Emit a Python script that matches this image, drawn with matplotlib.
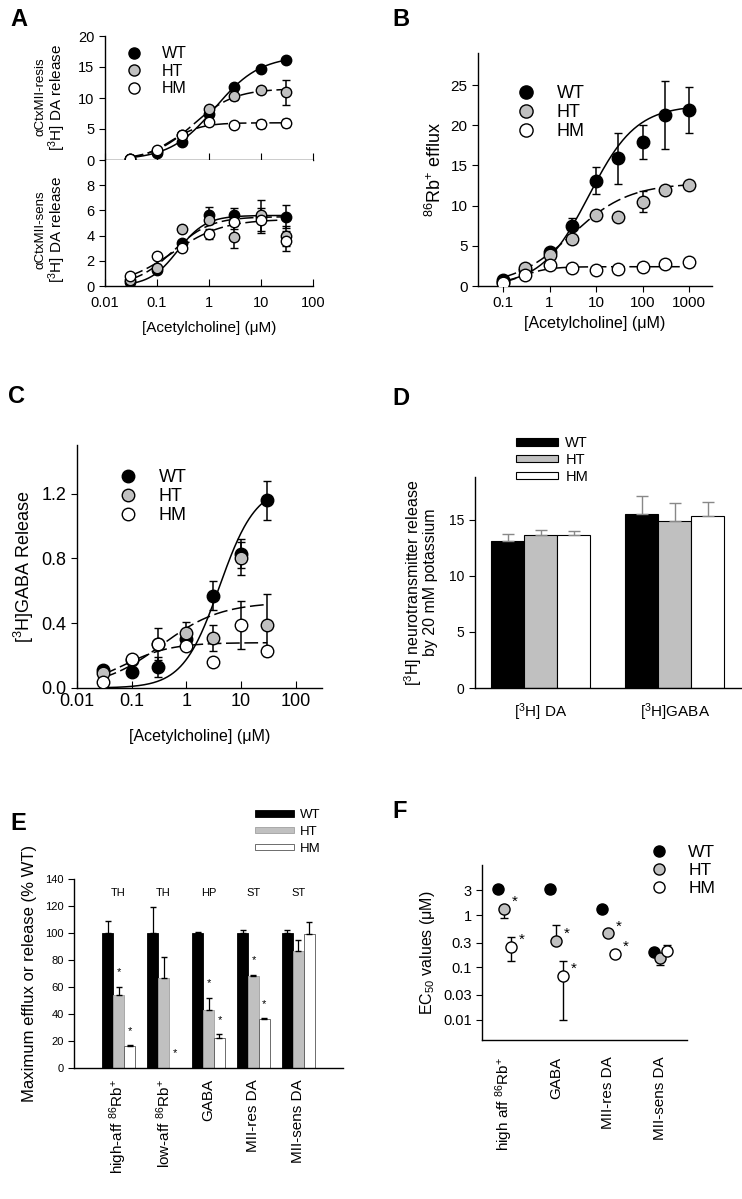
import numpy as np
import matplotlib
matplotlib.use('Agg')
import matplotlib.pyplot as plt
from matplotlib.patches import Patch
from matplotlib.lines import Line2D

plt.rcParams['font.family'] = ['Liberation Sans', 'DejaVu Sans']
plt.rcParams['mathtext.fontset'] = 'custom'
plt.rcParams['mathtext.rm'] = 'Liberation Sans'
plt.rcParams['mathtext.it'] = 'Liberation Sans:italic'
plt.rcParams['axes.linewidth'] = 1.0

# ---- data ----
genotypes = ['WT', 'HT', 'HM']

# A: aCtxMII-resistant / -sensitive [3H]DA release
ach_a = [0.03, 0.1, 0.3, 1, 3, 10, 30]
resis_wt = [0.2, 1.2, 2.9, 7.4, 11.8, 14.6, 16.1]
resis_ht = [0.2, 1.4, 4.1, 8.3, 10.4, 11.3, 10.9]
resis_hm = [0.2, 1.6, 4.1, 6.2, 5.6, 5.8, 6.0]
resis_wt_err = [0, 0, 0, 0, 0, 0, 0]
resis_ht_err = [0, 0, 0, 0, 0.7, 0.5, 2.0]
resis_hm_err = [0, 0, 0, 0.5, 0, 0.7, 0.6]
resis_fit_wt = [16.8, 1.3, 1.0]   # top, EC50, Hill slope
resis_fit_ht = [11.5, 0.5, 1.1]
resis_fit_hm = [6.0, 0.18, 1.5]

sens_wt = [0.3, 1.3, 3.4, 5.6, 5.6, 5.5, 5.5]
sens_ht = [0.5, 1.4, 4.5, 5.2, 3.9, 5.6, 4.0]
sens_hm = [0.8, 2.4, 3.0, 4.1, 5.1, 5.2, 3.6]
sens_wt_err = [0, 0, 0, 0.7, 0.6, 0, 0.9]
sens_ht_err = [0, 0, 0, 0, 0.9, 1.2, 0.8]
sens_hm_err = [0, 0, 0, 0.4, 0.6, 1.0, 0.8]
sens_fit_wt = [5.6, 0.25, 1.6]
sens_fit_ht = [5.5, 0.2, 1.2]
sens_fit_hm = [5.3, 0.2, 0.9]

# B: 86Rb+ efflux
ach_b = [0.1, 0.3, 1, 3, 10, 30, 100, 300, 1000]
rb_wt = [0.7, 2.0, 4.2, 7.5, 13.1, 15.9, 17.9, 21.3, 21.9]
rb_ht = [0.5, 2.2, 3.8, 5.8, 8.8, 8.6, 10.5, 12.0, 12.6]
rb_hm = [0.4, 1.4, 2.6, 2.3, 2.0, 2.1, 2.4, 2.8, 3.0]
rb_wt_err = [0, 0, 0.3, 1.0, 1.7, 3.2, 2.1, 4.2, 2.9]
rb_ht_err = [0, 0, 0, 0, 0.5, 0, 1.3, 0, 0]
rb_hm_err = [0, 0, 0, 0, 0, 0, 0, 0, 0]
rb_fit_wt = [22.5, 7.0, 0.85]
rb_fit_ht = [12.8, 3.0, 0.7]
rb_fit_hm = [2.4, 0.25, 1.5]

# C: [3H]GABA release
ach_c = [0.03, 0.1, 0.3, 1, 3, 10, 30]
gaba_wt = [0.11, 0.10, 0.13, 0.30, 0.57, 0.83, 1.16]
gaba_ht = [0.09, 0.17, 0.27, 0.34, 0.31, 0.80, 0.39]
gaba_hm = [0.04, 0.18, 0.27, 0.26, 0.16, 0.39, 0.23]
gaba_wt_err = [0.02, 0, 0.06, 0, 0.09, 0.09, 0.12]
gaba_ht_err = [0, 0, 0.1, 0.07, 0.08, 0.1, 0.19]
gaba_hm_err = [0, 0, 0, 0, 0, 0.15, 0]
gaba_fit_wt = [1.25, 4.0, 1.3]
gaba_fit_ht = [0.53, 0.35, 0.8]
gaba_fit_hm = [0.28, 0.07, 1.0]

# D: K+ evoked release
d_groups = ['[$^3$H] DA', '[$^3$H]GABA']
k_wt = [13.1, 15.5]
k_ht = [13.6, 14.9]
k_hm = [13.6, 15.3]
k_wt_err = [0.6, 1.6]
k_ht_err = [0.5, 1.6]
k_hm_err = [0.4, 1.3]

# E: maximum efflux or release (% WT)
e_groups = ['high-aff $^{86}$Rb$^{+}$', 'low-aff $^{86}$Rb$^{+}$', 'GABA',
            'MII-res DA', 'MII-sens DA']
e_regions = ['TH', 'TH', 'HP', 'ST', 'ST']
max_wt = [100, 100, 100, 100, 100]
max_ht = [54, 67, 43, 68, 87]
max_hm = [16, 0, 22, 36, 99]
max_wt_err = [9, 19, 1, 2, 2]
max_ht_err = [6, 15, 9, 1, 8]
max_hm_err = [1, 0, 3, 1, 9]
sig_ht_e = [True, False, True, True, False]
sig_hm_e = [True, True, True, True, False]

# F: EC50 values
f_groups = ['high aff $^{86}$Rb$^{+}$', 'GABA', 'MII-res DA', 'MII-sens DA']
ec50_wt = [3.2, 3.2, 1.3, 0.2]
ec50_ht = [1.3, 0.32, 0.45, 0.15]
ec50_hm = [0.25, 0.07, 0.18, 0.21]
ec50_wt_lo = [3.2, 2.6, 1.3, 0.2]
ec50_wt_hi = [3.2, 3.2, 1.3, 0.2]
ec50_ht_lo = [0.9, 0.32, 0.45, 0.11]
ec50_ht_hi = [1.35, 0.65, 0.45, 0.15]
ec50_hm_lo = [0.13, 0.01, 0.18, 0.21]
ec50_hm_hi = [0.38, 0.13, 0.18, 0.27]
sig_ht_f = [True, True, True, False]
sig_hm_f = [True, True, True, False]

ach_label = '[Acetylcholine] (\u03bcM)'

# ---- style ----
W, H = 742, 1199
fig = plt.figure(figsize=(W / 100, H / 100), dpi=100)
face = {'WT': 'black', 'HT': '#c0c0c0', 'HM': 'white'}
line_style = {'WT': '-', 'HT': (0, (9, 3)), 'HM': (0, (9, 3))}


def rect(l, t, r, b):
    return [l / W, 1 - b / H, (r - l) / W, (b - t) / H]


def hill(x, top, ec50, n):
    return top * x ** n / (ec50 ** n + x ** n)


def dose_series(ax, x, y, err, fit, g, ms):
    xs = np.logspace(np.log10(x[0]), np.log10(x[-1]), 200)
    ax.plot(xs, hill(xs, *fit), color='black', lw=1.1, ls=line_style[g], zorder=2)
    e = np.array(err, dtype=float)
    m = e > 0
    if m.any():
        ax.errorbar(np.array(x)[m], np.array(y)[m], yerr=e[m], fmt='none',
                    ecolor='black', elinewidth=1.1, capsize=3, zorder=3)
    ax.plot(x, y, 'o', ms=ms, mfc=face[g], mec='black', mew=1.0, zorder=4)


def marker_legend(ax, anchor, fs, ms, spacing=0.1):
    hs = [Line2D([], [], ls='none', marker='o', ms=ms, mfc=face[g], mec='black')
          for g in genotypes]
    ax.legend(hs, genotypes, loc='upper left', bbox_to_anchor=anchor,
              bbox_transform=fig.transFigure, frameon=False, fontsize=fs,
              handletextpad=1.2, labelspacing=spacing, borderaxespad=0,
              handlelength=1.0)


def log_ticks(ax, ticks):
    ax.set_xscale('log')
    ax.set_xticks(ticks)
    ax.set_xticklabels([('%g' % t) for t in ticks])
    ax.xaxis.set_minor_locator(matplotlib.ticker.NullLocator())


def clean(ax):
    ax.spines['top'].set_visible(False)
    ax.spines['right'].set_visible(False)


# ---- panel A ----
axA1 = fig.add_axes(rect(105, 36, 313, 160))
axA2 = fig.add_axes(rect(105, 160, 313, 286))
for ax in (axA1, axA2):
    clean(ax)
    log_ticks(ax, [0.01, 0.1, 1, 10, 100])
    ax.set_xlim(0.01, 100)
    ax.tick_params(axis='x', direction='in', length=5, pad=7)
    ax.tick_params(axis='y', direction='out', length=4, labelsize=10.5)
axA1.set_xticklabels([])
dose_series(axA1, ach_a, resis_wt, resis_wt_err, resis_fit_wt, 'WT', 7.5)
dose_series(axA1, ach_a, resis_ht, resis_ht_err, resis_fit_ht, 'HT', 7.5)
dose_series(axA1, ach_a, resis_hm, resis_hm_err, resis_fit_hm, 'HM', 7.5)
axA1.set_ylim(0, 20)
axA1.set_yticks([0, 5, 10, 15, 20])
dose_series(axA2, ach_a, sens_wt, sens_wt_err, sens_fit_wt, 'WT', 7.5)
dose_series(axA2, ach_a, sens_ht, sens_ht_err, sens_fit_ht, 'HT', 7.5)
dose_series(axA2, ach_a, sens_hm, sens_hm_err, sens_fit_hm, 'HM', 7.5)
axA2.set_ylim(0, 10)
axA2.set_yticks([0, 2, 4, 6, 8])
axA2.tick_params(axis='x', labelsize=10.5)
axA2.set_xlabel(ach_label, fontsize=11, labelpad=8)
marker_legend(axA1, (120 / W, 1 - 40 / H), 11.5, 8, 0.15)
fig.text(40 / W, 1 - 97 / H, '\u03b1CtxMII-resis', rotation=90, fontsize=9.5,
         ha='center', va='center')
fig.text(57 / W, 1 - 98 / H, '[$^3$H] DA release', rotation=90, fontsize=11,
         ha='center', va='center')
fig.text(40 / W, 1 - 230 / H, '\u03b1CtxMII-sens', rotation=90, fontsize=9.5,
         ha='center', va='center')
fig.text(57 / W, 1 - 230 / H, '[$^3$H] DA release', rotation=90, fontsize=11,
         ha='center', va='center')

# ---- panel B ----
axB = fig.add_axes(rect(478, 53, 712, 286))
clean(axB)
log_ticks(axB, [0.1, 1, 10, 100, 1000])
axB.set_xlim(0.029, 3100)
axB.set_ylim(0, 29)
axB.set_yticks([0, 5, 10, 15, 20, 25])
dose_series(axB, ach_b, rb_wt, rb_wt_err, rb_fit_wt, 'WT', 9)
dose_series(axB, ach_b, rb_ht, rb_ht_err, rb_fit_ht, 'HT', 9)
dose_series(axB, ach_b, rb_hm, rb_hm_err, rb_fit_hm, 'HM', 9)
axB.tick_params(direction='out', length=4, labelsize=11)
axB.set_xlabel(ach_label, fontsize=11.5)
axB.set_ylabel('$^{86}$Rb$^{+}$ efflux', fontsize=13, labelpad=4)
marker_legend(axB, (510 / W, 1 - 78 / H), 13, 9.5, 0.1)

# ---- panel C ----
axC = fig.add_axes(rect(77, 445, 322, 688))
clean(axC)
log_ticks(axC, [0.01, 0.1, 1, 10, 100])
axC.set_xlim(0.01, 300)
axC.set_ylim(0, 1.5)
axC.set_yticks([0.0, 0.4, 0.8, 1.2])
axC.set_yticklabels(['0.0', '0.4', '0.8', '1.2'])
dose_series(axC, ach_c, gaba_wt, gaba_wt_err, gaba_fit_wt, 'WT', 9)
dose_series(axC, ach_c, gaba_ht, gaba_ht_err, gaba_fit_ht, 'HT', 9)
dose_series(axC, ach_c, gaba_hm, gaba_hm_err, gaba_fit_hm, 'HM', 9)
axC.tick_params(axis='x', direction='in', length=5, labelsize=13)
axC.tick_params(axis='y', direction='out', length=4, labelsize=13)
axC.set_xlabel(ach_label, fontsize=11.5, labelpad=14)
axC.set_ylabel('[$^3$H]GABA Release', fontsize=13)
marker_legend(axC, (112 / W, 1 - 462 / H), 13, 9, 0.1)

# ---- panel D ----
axD = fig.add_axes(rect(475, 477, 742, 688))
clean(axD)
xd = np.arange(len(d_groups))
wd = 0.246
for i, (g, vals, errs) in enumerate(zip(genotypes, [k_wt, k_ht, k_hm],
                                        [k_wt_err, k_ht_err, k_hm_err])):
    axD.bar(xd + (i - 1) * wd, vals, wd, color=face[g], edgecolor='black', lw=0.8,
            yerr=[np.zeros(len(errs)), errs], ecolor='#888888',
            error_kw=dict(capsize=4, elinewidth=1.0), zorder=2)
axD.set_xlim(-0.49, 1.5)
axD.set_ylim(0, 18.8)
axD.set_yticks([0, 5, 10, 15])
axD.set_xticks(xd)
axD.set_xticklabels(d_groups, fontsize=11)
axD.tick_params(axis='x', length=0, pad=10)
axD.tick_params(axis='y', direction='out', length=4, labelsize=10)
axD.set_ylabel('[$^3$H] neurotransmitter release\nby 20 mM potassium', fontsize=11.5,
               linespacing=0.95, labelpad=8)
hD = [Patch(facecolor=face[g], edgecolor='black', lw=0.8) for g in genotypes]
axD.legend(hD, genotypes, loc='upper left', bbox_to_anchor=(510 / W, 1 - 430 / H),
           bbox_transform=fig.transFigure, frameon=False, fontsize=10.5,
           handlelength=2.9, handleheight=0.45, labelspacing=0.2,
           handletextpad=0.5, borderaxespad=0)

# ---- panel E ----
axE = fig.add_axes(rect(74, 879, 343, 1068))
clean(axE)
xe = np.arange(len(e_groups))
we = 0.244
e_edges = {'WT': 'black', 'HT': '#a0a0a0', 'HM': '#555555'}
for i, (g, vals, errs) in enumerate(zip(genotypes, [max_wt, max_ht, max_hm],
                                        [max_wt_err, max_ht_err, max_hm_err])):
    pos = xe + (i - 1) * we
    axE.bar(pos, vals, we, color=face[g], edgecolor=e_edges[g], lw=0.6, zorder=2)
    errs = np.array(errs, dtype=float)
    m = errs > 0
    axE.errorbar(pos[m], np.array(vals)[m], yerr=[np.zeros(m.sum()), errs[m]],
                 fmt='none', ecolor='black', elinewidth=0.9, capsize=2.5, zorder=3)
for sig, vals, errs, off in ((sig_ht_e, max_ht, max_ht_err, 0), (sig_hm_e, max_hm, max_hm_err, 1)):
    for k in range(len(e_groups)):
        if sig[k]:
            axE.text(xe[k] + off * we, vals[k] + errs[k] + 7, '*', ha='center',
                     va='bottom', fontsize=8)
for k, reg in enumerate(e_regions):
    axE.text(xe[k], 130, reg, ha='center', va='center', fontsize=8)
axE.set_xlim(-0.99, 4.99)
axE.set_ylim(0, 140)
axE.set_yticks(range(0, 141, 20))
axE.set_xticks(xe)
axE.set_xticklabels(e_groups, rotation=90, fontsize=11)
axE.tick_params(axis='x', length=0, pad=8)
axE.tick_params(axis='y', direction='out', length=4, labelsize=8)
axE.set_ylabel('Maximum efflux or release (% WT)', fontsize=12, labelpad=6)
hE = [Patch(facecolor=face[g], edgecolor=e_edges[g], lw=0.6) for g in genotypes]
axE.legend(hE, genotypes, loc='upper left', bbox_to_anchor=(250 / W, 1 - 804 / H),
           bbox_transform=fig.transFigure, frameon=False, fontsize=9.5,
           handlelength=2.9, handleheight=0.35, labelspacing=0.35,
           handletextpad=0.5, borderaxespad=0)

# ---- panel F ----
axF = fig.add_axes(rect(482, 865, 687, 1040))
clean(axF)
xf = np.arange(len(f_groups))
off_f = {'WT': -0.12, 'HT': 0.0, 'HM': 0.13}
for g, vals, lo, hi, sig in (('WT', ec50_wt, ec50_wt_lo, ec50_wt_hi, None),
                             ('HT', ec50_ht, ec50_ht_lo, ec50_ht_hi, sig_ht_f),
                             ('HM', ec50_hm, ec50_hm_lo, ec50_hm_hi, sig_hm_f)):
    pos = xf + off_f[g]
    vals = np.array(vals)
    axF.errorbar(pos, vals, yerr=[vals - np.array(lo), np.array(hi) - vals], fmt='none',
                 ecolor='black', elinewidth=1.0, capsize=3, zorder=2)
    axF.plot(pos, vals, 'o', ms=8, mfc=face[g], mec='black', mew=1.0, zorder=3)
    if sig is not None:
        for k in range(len(f_groups)):
            if sig[k]:
                axF.annotate('*', (pos[k], vals[k]), xytext=(6, 0),
                             textcoords='offset points', fontsize=11, va='bottom')
axF.set_yscale('log')
axF.set_ylim(0.0041, 9.1)
f_ticks = [0.01, 0.03, 0.1, 0.3, 1, 3]
axF.set_yticks(f_ticks)
axF.set_yticklabels([('%g' % t) for t in f_ticks])
axF.yaxis.set_minor_locator(matplotlib.ticker.NullLocator())
axF.set_xlim(-0.42, 3.52)
axF.set_xticks(xf)
axF.set_xticklabels(f_groups, rotation=90, fontsize=11)
axF.tick_params(axis='x', length=0, pad=12)
axF.tick_params(axis='y', direction='out', length=4, labelsize=10.5)
axF.set_ylabel('EC$_{50}$ values (\u03bcM)', fontsize=11.5)
marker_legend(axF, (643 / W, 1 - 838 / H), 12.5, 8, 0.15)

# ---- panel letters ----
for letter, x, y in (('A', 10, 8), ('B', 392, 8), ('C', 8, 385), ('D', 392, 387),
                     ('E', 10, 812), ('F', 392, 800)):
    fig.text(x / W, 1 - y / H, letter, fontsize=17, fontweight='bold', va='top')

fig.savefig('out.png', dpi=100)
